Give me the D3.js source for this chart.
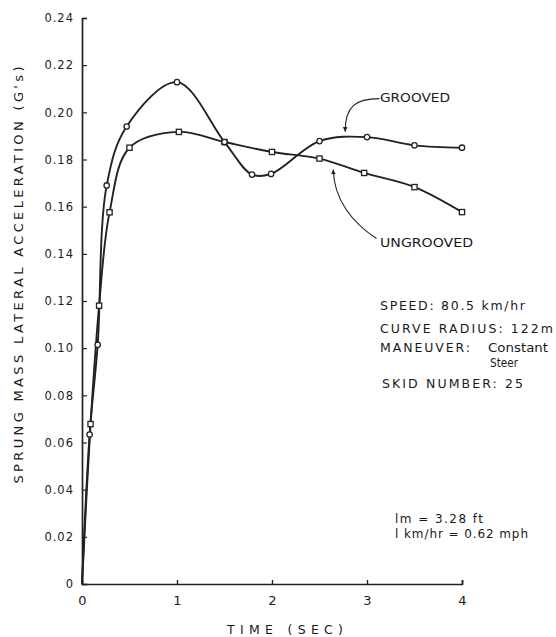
<!DOCTYPE html>
<html>
<head>
<meta charset="utf-8">
<script src="https://cdn.jsdelivr.net/npm/d3@7"></script>
<style>
  body { margin: 0; background: #fff; }
  text { font-family: 'DejaVu Sans', 'Liberation Sans', sans-serif; fill: #1a1a1a; }
</style>
</head>
<body>
<div id="viz"></div>
<script>
const width = 556;
const height = 637;
const margin = {top: 18, right: 94, bottom: 53, left: 82};
const ink = '#222';

// Data
const groovedTime = [0, 0.08, 0.165, 0.26, 0.47, 1.0, 1.5, 1.79, 1.99, 2.5, 3.0, 3.5, 4.0];
const groovedAccel = [0, 0.0634, 0.1014, 0.169, 0.194, 0.2128, 0.1874, 0.1736, 0.1739, 0.1878, 0.1895, 0.186, 0.185];
const ungroovedTime = [0, 0.09, 0.18, 0.29, 0.5, 1.02, 1.5, 2.0, 2.5, 2.97, 3.5, 4.0];
const ungroovedAccel = [0, 0.0678, 0.118, 0.1576, 0.185, 0.1917, 0.1874, 0.1832, 0.1804, 0.1743, 0.1683, 0.1577];

const yTicks = [0, 0.02, 0.04, 0.06, 0.08, 0.10, 0.12, 0.14, 0.16, 0.18, 0.20, 0.22, 0.24];
const yTickLabels = ['0', '0.02', '0.04', '0.06', '0.08', '0.10', '0.12', '0.14', '0.16', '0.18', '0.20', '0.22', '0.24'];
const xTicks = [0, 1, 2, 3, 4];

const infoLines = ['SPEED: 80.5 km/hr', 'CURVE RADIUS: 122m', 'MANEUVER:', 'SKID NUMBER: 25'];
const noteLines = ['lm = 3.28 ft', 'l km/hr = 0.62 mph'];

const chart = d3.select('#viz')
  .append('svg')
  .attr('width', width)
  .attr('height', height)
  .attr('viewBox', [0, 0, width, height]);

// Scales
const xScale = d3.scaleLinear()
  .domain([0, 4])
  .range([margin.left, width - margin.right]);

const yScale = d3.scaleLinear()
  .domain([0, 0.24])
  .range([height - margin.bottom, margin.top]);

// Axes
const yAxis = chart.append('g')
  .attr('transform', `translate(${margin.left}, 0)`)
  .call(d3.axisLeft(yScale)
    .tickValues(yTicks)
    .tickSize(-5)
    .tickPadding(8)
    .tickFormat((d, i) => yTickLabels[i]));
yAxis.select('.domain').attr('stroke', ink).attr('stroke-width', 1.7);
yAxis.selectAll('.tick line').attr('stroke', ink).attr('stroke-width', 1.2);
yAxis.selectAll('.tick text')
  .attr('font-size', 11.5)
  .attr('letter-spacing', 1)
  .attr('fill', '#1a1a1a');

const xAxis = chart.append('g')
  .attr('transform', `translate(0, ${height - margin.bottom})`)
  .call(d3.axisBottom(xScale)
    .tickValues(xTicks)
    .tickSize(-4)
    .tickPadding(12)
    .tickFormat(d3.format('d')));
xAxis.select('.domain').attr('stroke', ink).attr('stroke-width', 1.7);
xAxis.selectAll('.tick line').attr('stroke', ink).attr('stroke-width', 1.4)
  .attr('display', d => d === 0 ? 'none' : null);
xAxis.selectAll('.tick text')
  .attr('font-size', 13)
  .attr('fill', '#1a1a1a');

// Axis titles
chart.append('text')
  .attr('transform', `translate(23, ${(yScale(0.24) + yScale(0)) / 2 - 26}) rotate(-90)`)
  .attr('text-anchor', 'middle')
  .attr('font-size', 13)
  .attr('textLength', 417)
  .attr('lengthAdjust', 'spacing')
  .text("SPRUNG MASS LATERAL ACCELERATION (G's)");

chart.append('text')
  .attr('x', 285)
  .attr('y', 634)
  .attr('text-anchor', 'middle')
  .attr('font-size', 12.5)
  .attr('textLength', 116)
  .attr('lengthAdjust', 'spacing')
  .text('TIME (SEC)');

// Curves
const toPoints = (ts, vs) => ts.map((t, i) => ({t: t, v: vs[i]}));
const grooved = toPoints(groovedTime, groovedAccel);
const ungrooved = toPoints(ungroovedTime, ungroovedAccel);

const lineGen = d3.line()
  .x(d => xScale(d.t))
  .y(d => yScale(d.v))
  .curve(d3.curveCatmullRom.alpha(0.5));

[grooved, ungrooved].forEach(series => {
  chart.append('path')
    .attr('d', lineGen(series))
    .attr('fill', 'none')
    .attr('stroke', ink)
    .attr('stroke-width', 1.9);
});

// Markers (no marker at the origin)
chart.append('g')
  .selectAll('rect')
  .data(ungrooved.filter(d => d.t > 0))
  .join('rect')
    .attr('x', d => xScale(d.t) - 2.6)
    .attr('y', d => yScale(d.v) - 2.6)
    .attr('width', 5.2)
    .attr('height', 5.2)
    .attr('fill', '#fff')
    .attr('stroke', ink)
    .attr('stroke-width', 1.3);

chart.append('g')
  .selectAll('circle')
  .data(grooved.filter(d => d.t > 0))
  .join('circle')
    .attr('cx', d => xScale(d.t))
    .attr('cy', d => yScale(d.v))
    .attr('r', 2.7)
    .attr('fill', '#fff')
    .attr('stroke', ink)
    .attr('stroke-width', 1.3);

// Leaders with arrows
chart.append('defs')
  .append('marker')
    .attr('id', 'arrow')
    .attr('viewBox', '0 0 10 10')
    .attr('refX', 10)
    .attr('refY', 5)
    .attr('markerWidth', 5)
    .attr('markerHeight', 6)
    .attr('markerUnits', 'userSpaceOnUse')
    .attr('orient', 'auto')
  .append('path')
    .attr('d', 'M0,0 L10,5 L0,10 z')
    .attr('fill', ink);

const leader = (from, c1, c2, to) => {
  const p = d3.path();
  p.moveTo(xScale(from[0]), yScale(from[1]));
  p.bezierCurveTo(xScale(c1[0]), yScale(c1[1]), xScale(c2[0]), yScale(c2[1]), xScale(to[0]), yScale(to[1]));
  return p.toString();
};

chart.append('path')
  .attr('d', leader([3.13, 0.2058], [2.88, 0.2058], [2.77, 0.2025], [2.77, 0.1918]))
  .attr('fill', 'none')
  .attr('stroke', ink)
  .attr('stroke-width', 1.1)
  .attr('marker-end', 'url(#arrow)');

chart.append('path')
  .attr('d', leader([3.1, 0.1465], [2.85, 0.153], [2.65, 0.163], [2.645, 0.1758]))
  .attr('fill', 'none')
  .attr('stroke', ink)
  .attr('stroke-width', 1.1)
  .attr('marker-end', 'url(#arrow)');

chart.append('text')
  .attr('x', 380).attr('y', 102)
  .attr('font-size', 12.5)
  .attr('textLength', 70).attr('lengthAdjust', 'spacingAndGlyphs')
  .text('GROOVED');

chart.append('text')
  .attr('x', 380).attr('y', 247)
  .attr('font-size', 12.5)
  .attr('textLength', 93).attr('lengthAdjust', 'spacingAndGlyphs')
  .text('UNGROOVED');

// Test conditions
const infoY = [310, 332.5, 351.5, 388];
const infoLen = [145, 173, 90, 141];
chart.append('g')
  .selectAll('text')
  .data(infoLines)
  .join('text')
    .attr('x', (d, i) => i === 3 ? 382 : 380)
    .attr('y', (d, i) => infoY[i])
    .attr('font-size', 12.5)
    .attr('textLength', (d, i) => infoLen[i])
    .attr('lengthAdjust', 'spacing')
    .text(d => d);

chart.append('text')
  .attr('x', 488).attr('y', 351.5)
  .attr('font-size', 12)
  .attr('textLength', 60).attr('lengthAdjust', 'spacingAndGlyphs')
  .text('Constant');

chart.append('text')
  .attr('x', 490).attr('y', 366.5)
  .attr('font-size', 12)
  .attr('textLength', 28).attr('lengthAdjust', 'spacingAndGlyphs')
  .text('Steer');

// Unit notes
const noteLen = [88, 133];
chart.append('g')
  .selectAll('text')
  .data(noteLines)
  .join('text')
    .attr('x', 395)
    .attr('y', (d, i) => 523 + i * 15)
    .attr('font-size', 12)
    .attr('textLength', (d, i) => noteLen[i])
    .attr('lengthAdjust', 'spacing')
    .text(d => d);
</script>
</body>
</html>
